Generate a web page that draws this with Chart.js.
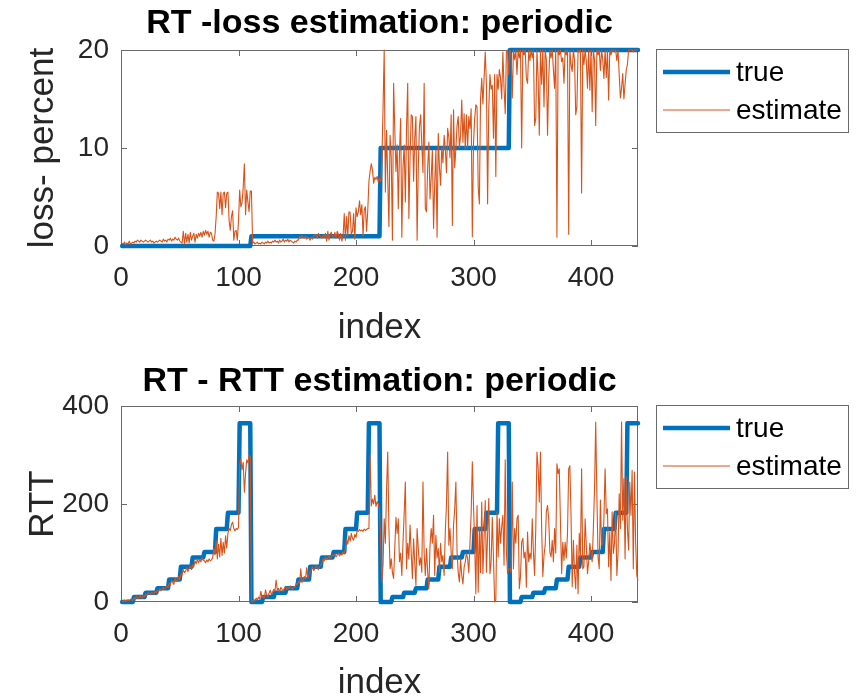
<!DOCTYPE html>
<html>
<head>
<meta charset="utf-8">
<script src="https://cdn.jsdelivr.net/npm/chart.js@4.4.1/dist/chart.umd.min.js"></script>
<style>
  html, body { margin: 0; padding: 0; background: #ffffff; overflow: hidden; width: 859px; height: 699px; }
  .panel { position: absolute; left: 0; width: 859px; height: 360px; }
  #lossPanel { top: 0; }
  #rttPanel { top: 350px; }
</style>
</head>
<body>
<div class="panel" id="lossPanel"><canvas id="lossChart" width="859" height="360"></canvas></div>
<div class="panel" id="rttPanel"><canvas id="rttChart" width="859" height="360"></canvas></div>
<script>
// ---- series (one value per sample index 1..440) ----
const lossTrue = [
  0,0,0,0,0,0,0,0,0,0, 0,0,0,0,0,0,0,0,0,0, 0,0,0,0,0,0,0,0,0,0, 0,0,0,0,0,0,0,0,0,0,
  0,0,0,0,0,0,0,0,0,0, 0,0,0,0,0,0,0,0,0,0, 0,0,0,0,0,0,0,0,0,0, 0,0,0,0,0,0,0,0,0,0,
  0,0,0,0,0,0,0,0,0,0, 0,0,0,0,0,0,0,0,0,0, 0,0,0,0,0,0,0,0,0,0,
  1,1,1,1,1,1,1,1,1,1, 1,1,1,1,1,1,1,1,1,1, 1,1,1,1,1,1,1,1,1,1, 1,1,1,1,1,1,1,1,1,1,
  1,1,1,1,1,1,1,1,1,1, 1,1,1,1,1,1,1,1,1,1, 1,1,1,1,1,1,1,1,1,1, 1,1,1,1,1,1,1,1,1,1,
  1,1,1,1,1,1,1,1,1,1, 1,1,1,1,1,1,1,1,1,1, 1,1,1,1,1,1,1,1,1,1,
  10,10,10,10,10,10,10,10,10,10, 10,10,10,10,10,10,10,10,10,10, 10,10,10,10,10,10,10,10,10,10,
  10,10,10,10,10,10,10,10,10,10, 10,10,10,10,10,10,10,10,10,10, 10,10,10,10,10,10,10,10,10,10,
  10,10,10,10,10,10,10,10,10,10, 10,10,10,10,10,10,10,10,10,10, 10,10,10,10,10,10,10,10,10,10,
  10,10,10,10,10,10,10,10,10,10, 10,10,10,10,10,10,10,10,10,10,
  20,20,20,20,20,20,20,20,20,20, 20,20,20,20,20,20,20,20,20,20, 20,20,20,20,20,20,20,20,20,20,
  20,20,20,20,20,20,20,20,20,20, 20,20,20,20,20,20,20,20,20,20, 20,20,20,20,20,20,20,20,20,20,
  20,20,20,20,20,20,20,20,20,20, 20,20,20,20,20,20,20,20,20,20, 20,20,20,20,20,20,20,20,20,20,
  20,20,20,20,20,20,20,20,20,20, 20,20,20,20,20,20,20,20,20,20
];

const lossEstimate = [
  0.3,0.2,0.4,0.1,0.3,0.2,0.5,0.2,0.3,0.4,
  0.3,0.5,0.4,0.6,0.5,0.4,0.6,0.5,0.4,0.5,
  0.6,0.5,0.4,0.5,0.6,0.4,0.5,0.3,0.4,0.5,
  0.4,0.5,0.6,0.5,0.4,0.7,0.5,0.6,0.4,0.7,
  0.6,0.8,0.5,0.7,0.6,0.9,0.7,0.6,0.8,0.5,
  0.4,0.3,1.5,0.2,1.3,0.4,1.2,0.3,1.4,0.6,
  1.0,1.3,0.4,1.2,0.8,1.3,1.0,1.4,0.9,1.5,
  1.1,1.6,1.2,1.5,0.9,1.4,1.3,0.6,0.5,1.2,
  3.0,5.5,5.4,3.8,5.5,3.2,5.4,5.5,3.9,5.4,
  5.5,2.6,1.6,3.0,3.6,0.6,1.5,1.6,0.6,2.5,
  5.7,4.0,4.4,6.0,8.4,3.2,5.7,4.5,3.5,5.6,
  5.6,0.3,0.4,0.2,0.3,0.4,0.2,0.3,0.2,0.4,
  0.3,0.2,0.4,0.3,0.5,0.3,0.4,0.3,0.5,0.4,
  0.6,0.4,0.5,0.3,0.6,0.4,0.5,0.7,0.4,0.6,
  0.5,0.7,0.4,0.6,0.5,0.4,0.3,0.5,0.4,0.6,
  0.6,1.0,0.8,1.1,0.9,0.8,1.0,0.7,0.9,0.8,
  0.6,0.9,0.7,1.0,1.2,1.1,0.8,1.3,1.1,0.9,
  0.8,1.1,0.9,1.3,0.5,1.5,0.6,1.2,1.4,0.9,
  0.9,1.4,0.8,1.5,1.2,0.6,1.3,0.5,1.0,3.3,
  0.6,3.0,1.0,3.5,3.4,1.2,1.5,3.3,0.7,3.9,
  3.0,3.5,4.6,3.2,4.2,1.0,3.7,4.0,1.5,3.6,
  6.6,7.6,8.4,7.8,6.4,7.0,6.8,7.1,6.5,6.9,
  6.6,8.5,14.0,20,5.5,11.8,7.0,2.0,11.3,9.0,
  0.6,16.6,12.0,7.6,10.3,3.8,9.5,13.0,0.9,8.0,
  10.3,4.5,12.0,16.6,2.8,9.0,13.4,13.2,6.6,11.0,
  13.2,0.6,8.0,12.2,13.4,10.3,7.5,16.6,3.8,3.5,
  8.0,10.6,4.8,7.0,9.8,1.8,6.5,9.8,0.9,11.5,
  8.0,6.2,10.1,8.5,11.3,9.9,7.5,12.0,11.1,9.0,
  13.4,2.1,13.9,8.0,9.9,12.3,13.2,10.0,11.3,14.9,
  10.6,13.5,9.9,13.4,10.0,13.2,12.0,14.0,0.95,10.5,
  13.0,14.4,14.2,6.0,4.3,15.0,17.1,14.5,17.1,19.8,
  16.5,4.3,14.0,17.5,16.0,16.4,11.0,17.5,7.1,17.5,
  16.0,18.0,17.1,15.0,19.8,16.1,13.5,19.8,20,17.5,
  20,19.5,15.1,20,19.0,20,17.5,20,19.2,20,
  10.0,20,19.5,20,17.1,16.6,20,18.9,20,19.2,
  20,12.3,13.0,20,17.2,11.3,20,16.5,20,14.2,
  20,19.0,11.3,16.9,20,19.2,20,18.0,16.1,20,
  0.9,20,19.5,20,18.8,19.2,16.6,20,19.5,20,
  1.2,20,18.5,17.8,20,19.0,13.4,14.2,20,19.8,
  20,5.4,20,18.5,20,18.9,16.1,20,15.9,20,
  13.7,20,19.0,12.3,20,19.5,20,17.9,20,19.0,
  17.1,20,17.2,20,14.9,20,19.5,20,20,19.8,
  20,18.9,20,17.5,15.1,16.1,17.6,15.0,16.5,18.0,
  18.5,20,20,20,20,19.8,20,20,20,20
];

const rttTrue = [
  0,0,0,0,0,0,0,0,0,0, 10,10,10,10,10,10,10,10,10,10, 19,19,19,19,19,19,19,19,19,19,
  28,28,28,28,28,28,28,28,28,28, 46,46,46,46,46,46,46,46,46,46, 72,72,72,72,72,72,72,72,72,72,
  91,91,91,91,91,91,91,91,91,91, 102,102,102,102,102,102,102,102,102,102,
  149,149,149,149,149,149,149,149,149,149, 182,182,182,182,182,182,182,182,182,182,
  365,365,365,365,365,365,365,365,365,365,
  0,0,0,0,0,0,0,0,0,0, 10,10,10,10,10,10,10,10,10,10, 19,19,19,19,19,19,19,19,19,19,
  28,28,28,28,28,28,28,28,28,28, 46,46,46,46,46,46,46,46,46,46, 72,72,72,72,72,72,72,72,72,72,
  91,91,91,91,91,91,91,91,91,91, 102,102,102,102,102,102,102,102,102,102,
  149,149,149,149,149,149,149,149,149,149, 182,182,182,182,182,182,182,182,182,182,
  365,365,365,365,365,365,365,365,365,365,
  0,0,0,0,0,0,0,0,0,0, 10,10,10,10,10,10,10,10,10,10, 19,19,19,19,19,19,19,19,19,19,
  28,28,28,28,28,28,28,28,28,28, 46,46,46,46,46,46,46,46,46,46, 72,72,72,72,72,72,72,72,72,72,
  91,91,91,91,91,91,91,91,91,91, 102,102,102,102,102,102,102,102,102,102,
  149,149,149,149,149,149,149,149,149,149, 182,182,182,182,182,182,182,182,182,182,
  365,365,365,365,365,365,365,365,365,365,
  0,0,0,0,0,0,0,0,0,0, 10,10,10,10,10,10,10,10,10,10, 19,19,19,19,19,19,19,19,19,19,
  28,28,28,28,28,28,28,28,28,28, 46,46,46,46,46,46,46,46,46,46, 72,72,72,72,72,72,72,72,72,72,
  91,91,91,91,91,91,91,91,91,91, 102,102,102,102,102,102,102,102,102,102,
  149,149,149,149,149,149,149,149,149,149, 182,182,182,182,182,182,182,182,182,182,
  365,365,365,365,365,365,365,365,365,365
];

const rttEstimate = [
  2,0,4,1,3,5,2,6,4,3,
  8,5,12,9,7,14,10,8,13,11,
  16,14,19,17,15,20,18,16,22,19,
  24,21,27,23,26,30,25,28,33,29,
  38,34,44,40,36,48,42,46,52,45,
  58,55,66,60,63,70,62,68,74,66,
  76,72,84,78,88,80,86,82,90,85,
  84,80,86,82,88,84,86,90,110,96,
  125,88,118,92,130,95,122,100,135,110,
  140,150,146,158,163,150,145,150,148,152,
  280,292,270,285,224,262,290,284,300,296,
  3,0,5,2,8,4,10,6,22,9,
  12,8,25,14,10,18,24,15,20,26,
  22,45,24,28,20,30,26,22,28,32,
  25,30,27,33,28,26,32,30,38,35,
  42,38,68,40,44,52,46,70,48,55,
  62,66,72,64,68,74,70,66,72,75,
  80,88,84,92,86,90,94,88,92,96,
  94,98,92,96,100,94,98,96,102,98,
  110,128,118,135,124,140,130,126,138,132,
  146,144,148,145,147,144,149,146,148,150,
  150,298,196,210,200,218,195,205,200,190,
  120,41,75,170,120,230,306,150,68,88,
  60,48,110,173,140,170,82,100,54,122,
  180,245,68,120,88,157,100,48,129,80,
  34,150,110,75,90,61,245,100,54,109,
  60,27,116,150,120,177,54,136,90,109,
  61,120,82,95,54,143,200,306,116,150,
  100,68,157,190,245,102,60,41,88,54,
  37,70,82,100,88,60,120,180,286,197,
  120,17,197,20,153,60,204,58,130,207,
  61,136,211,58,82,173,90,0,4,184,
  92,170,120,153,177,75,290,102,58,68,
  68,61,245,68,150,120,170,177,27,52,
  122,130,90,102,30,143,82,100,88,170,
  102,54,150,306,275,204,306,150,52,95,
  116,184,197,170,102,92,126,82,150,100,
  282,262,272,163,58,122,85,122,90,140,
  272,278,177,31,126,60,27,116,17,140,
  92,272,68,72,170,116,58,82,120,100,
  82,150,230,367,218,92,68,208,116,119,
  170,272,180,190,72,143,44,184,99,120,
  184,54,99,221,150,367,167,252,88,255,
  150,106,245,177,269,68,265,120,54,44
];

// ---- axis ticks ----
const indexTicks = [0, 100, 200, 300, 400];
const lossTicks = [0, 10, 20];
const rttTicks = [0, 200, 400];
const seriesNames = ['true', 'estimate'];

// ---- styling ----
const FONT = "'Liberation Sans', Arial, Helvetica, sans-serif";
const BLUE = '#0072BD';
const ORANGE = '#D95319';
const INK = '#262626';
const FRAME = '#6a6a6a';

const toPoints = arr => arr.map((v, i) => ({ x: i + 1, y: v }));

// Box around the plot area with inward tick marks on all four sides
const axesFrame = {
  id: 'axesFrame',
  beforeDatasetsDraw(chart) {
    const { ctx, chartArea: a, scales } = chart;
    const xs = scales.x, ys = scales.y;
    ctx.save();
    ctx.strokeStyle = FRAME;
    ctx.lineWidth = 1;
    ctx.strokeRect(Math.round(a.left) + 0.5, Math.round(a.top) + 0.5,
                   Math.round(a.right) - Math.round(a.left) - 1, Math.round(a.bottom) - Math.round(a.top) - 1);
    ctx.beginPath();
    xs.ticks.forEach(t => {
      const px = Math.round(xs.getPixelForValue(t.value)) + 0.5;
      ctx.moveTo(px, a.bottom); ctx.lineTo(px, a.bottom - 6);
      ctx.moveTo(px, a.top); ctx.lineTo(px, a.top + 6);
    });
    ys.ticks.forEach(t => {
      const py = Math.round(ys.getPixelForValue(t.value)) + 0.5;
      ctx.moveTo(a.left, py); ctx.lineTo(a.left + 6, py);
      ctx.moveTo(a.right, py); ctx.lineTo(a.right - 6, py);
    });
    ctx.stroke();
    ctx.restore();
  }
};

// Boxed legend to the right of the plot area
const sideLegend = {
  id: 'sideLegend',
  afterDraw(chart) {
    const { ctx, chartArea: a } = chart;
    const x0 = Math.round(a.right) + 18, y0 = Math.round(a.top) - 1;
    const w = 192, h = 83;
    const rowY = [23, 61];
    ctx.save();
    ctx.fillStyle = '#ffffff';
    ctx.fillRect(x0, y0, w, h);
    ctx.strokeStyle = FRAME;
    ctx.lineWidth = 1;
    ctx.strokeRect(x0 + 0.5, y0 + 0.5, w, h);
    chart.data.datasets.forEach((ds, i) => {
      const y = y0 + rowY[i];
      ctx.strokeStyle = ds.borderColor;
      ctx.lineWidth = ds.borderWidth;
      ctx.lineCap = 'butt';
      ctx.beginPath();
      ctx.moveTo(x0 + 7, y); ctx.lineTo(x0 + 74, y);
      ctx.stroke();
      ctx.fillStyle = '#000000';
      ctx.font = '28px ' + FONT;
      ctx.textBaseline = 'middle';
      ctx.textAlign = 'left';
      ctx.fillText(ds.label, x0 + 80, y + 1);
    });
    ctx.restore();
  }
};

function makePanel(canvasId, cfg) {
  return new Chart(document.getElementById(canvasId), {
    type: 'line',
    data: {
      datasets: [
        { label: seriesNames[0], data: toPoints(cfg.truth), borderColor: BLUE, borderWidth: 4.5,
          pointRadius: 0, borderJoinStyle: 'round', borderCapStyle: 'round', tension: 0, clip: false, order: 1 },
        { label: seriesNames[1], data: toPoints(cfg.estimate), borderColor: ORANGE, borderWidth: 1.1,
          pointRadius: 0, borderJoinStyle: 'round', tension: 0, clip: false, order: 0 }
      ]
    },
    options: {
      responsive: false,
      animation: false,
      devicePixelRatio: 1,
      events: [],
      layout: { padding: { left: 0, right: 221, top: 0, bottom: 0 } },
      plugins: {
        legend: { display: false },
        tooltip: { enabled: false },
        title: {
          display: true, text: cfg.title, fullSize: false, align: 'center', color: '#000000',
          font: { family: FONT, size: 34, weight: 'bold', lineHeight: 1.2 },
          padding: cfg.titlePad
        }
      },
      scales: {
        x: {
          type: 'linear', min: 0, max: 440,
          grid: { display: false, drawTicks: false },
          border: { display: false },
          afterBuildTicks: s => { s.ticks = indexTicks.map(v => ({ value: v })); },
          afterFit: s => { s.height = cfg.xHeight; },
          ticks: { color: INK, padding: 15, maxRotation: 0, autoSkip: false,
                   font: { family: FONT, size: 28, lineHeight: 1.2 } },
          title: { display: true, text: 'index', color: INK,
                   font: { family: FONT, size: 35, lineHeight: 1.2 },
                   padding: { top: 0, bottom: cfg.xTitleBottom } }
        },
        y: {
          type: 'linear', min: cfg.yTicks[0], max: cfg.yTicks[cfg.yTicks.length - 1],
          grid: { display: false, drawTicks: false },
          border: { display: false },
          afterBuildTicks: s => { s.ticks = cfg.yTicks.map(v => ({ value: v })); },
          afterFit: s => { s.width = 121; },
          ticks: { color: INK, padding: 12,
                   font: { family: FONT, size: 28, lineHeight: 1.2 } },
          title: { display: true, text: cfg.yLabel, color: INK,
                   font: { family: FONT, size: 35, lineHeight: 1.2 },
                   padding: { top: 22, bottom: 0 } }
        }
      }
    },
    plugins: [axesFrame, sideLegend]
  });
}

makePanel('lossChart', {
  title: 'RT -loss estimation: periodic',
  truth: lossTrue, estimate: lossEstimate,
  yTicks: lossTicks, yLabel: 'loss- percent',
  titlePad: { top: 2.8, bottom: 6.4 },
  xHeight: 114, xTitleBottom: 11
});

makePanel('rttChart', {
  title: 'RT - RTT estimation: periodic',
  truth: rttTrue, estimate: rttEstimate,
  yTicks: rttTicks, yLabel: 'RTT',
  titlePad: { top: 11.2, bottom: 4 },
  xHeight: 108, xTitleBottom: 6
});
</script>
</body>
</html>
